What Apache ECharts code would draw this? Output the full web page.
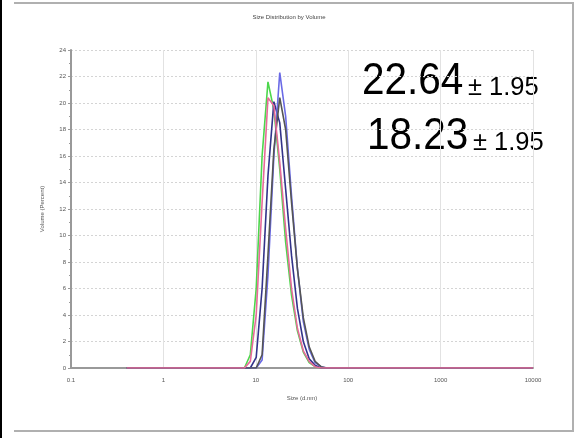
<!DOCTYPE html>
<html>
<head>
<meta charset="utf-8">
<script src="https://cdn.jsdelivr.net/npm/echarts@6/dist/echarts.min.js"></script>
<style>
  html, body { margin: 0; padding: 0; background: #fff; }
  #main { width: 578px; height: 438px; }
</style>
</head>
<body>
<div id="main"></div>
<script>
// size bins (d.nm), log spaced
var sizes = [0.4, 0.4632, 0.5365, 0.6213, 0.7195, 0.8332, 0.9649, 1.117, 1.294, 1.499,
  1.736, 2.01, 2.328, 2.696, 3.122, 3.615, 4.187, 4.849, 5.615, 6.503,
  7.531, 8.721, 10.1, 11.7, 13.54, 15.69, 18.17, 21.04, 24.36, 28.21,
  32.67, 37.84, 43.82, 50.75, 58.77, 68.06, 78.82, 91.28, 105.7, 122.4,
  141.8, 164.2, 190.1, 220.2, 255.0, 295.3, 342.0, 396.1, 458.7, 531.2,
  615.1, 712.4, 825.0, 955.4, 1106, 1281, 1484, 1718, 1990, 2305,
  2669, 3091, 3580, 4145, 4801, 5560, 6439, 7456, 8635, 10000];

// volume % for bins 7.531 .. 68.06 (index 20..35), zero elsewhere
var peakStart = 20;
var green  = [0, 1, 6, 16, 21.6, 19.5, 15, 9.5, 5.5, 2.8, 1.2, 0.4, 0.1, 0, 0, 0];
var purple = [0, 0, 0.8, 6, 14.5, 20.1, 18.5, 13.5, 8.5, 4.5, 2, 0.7, 0.2, 0, 0, 0];
var blue   = [0, 0, 0, 0.6, 7, 16, 22.3, 19, 13, 7.5, 3.5, 1.4, 0.4, 0.1, 0, 0];
var gray   = [0, 0, 0, 1, 8.5, 16.5, 20.4, 18, 12.5, 7.5, 3.8, 1.6, 0.5, 0.1, 0, 0];
var pink   = [0, 0.5, 4, 12.5, 20.4, 19.8, 15.5, 10.5, 6, 3, 1.3, 0.5, 0.1, 0, 0, 0];

var yTicks = [0, 2, 4, 6, 8, 10, 12, 14, 16, 18, 20, 22, 24];

function toData(vals) {
  return sizes.map(function (s, i) {
    var k = i - peakStart;
    var v = (k >= 0 && k < vals.length) ? vals[k] : 0;
    return [s, v];
  });
}

function line(name, vals, color, z) {
  return {
    name: name,
    type: 'line',
    data: toData(vals),
    showSymbol: false,
    z: z,
    lineStyle: { color: color, width: 1.6 },
    itemStyle: { color: color }
  };
}

var chart = echarts.init(document.getElementById('main'));

var option = {
  animation: false,
  backgroundColor: '#fff',
  title: {
    text: 'Size Distribution by Volume',
    left: 'center',
    top: 9,
    textStyle: { fontSize: 6, fontWeight: 'normal', color: '#444', fontFamily: 'Liberation Sans' }
  },
  grid: { left: 71, right: 45, top: 50, bottom: 70 },
  xAxis: {
    type: 'log',
    logBase: 10,
    min: 0.1,
    max: 10000,
    name: 'Size (d.nm)',
    nameLocation: 'middle',
    nameGap: 27,
    nameTextStyle: { fontSize: 6, color: '#555', fontFamily: 'Liberation Sans' },
    axisLine: { lineStyle: { color: '#999', width: 2 } },
    axisTick: { show: false },
    axisLabel: {
      fontSize: 6, color: '#555', margin: 9, fontFamily: 'Liberation Sans',
      formatter: function (v) { return String(v); }
    },
    splitLine: { show: true, lineStyle: { color: '#e2e2e2', width: 1 } }
  },
  yAxis: {
    type: 'value',
    min: 0,
    max: 24,
    interval: 2,
    name: 'Volume (Percent)',
    nameLocation: 'middle',
    nameRotate: 90,
    nameGap: 26,
    nameTextStyle: { fontSize: 6, color: '#555', fontFamily: 'Liberation Sans' },
    axisLine: { show: true, lineStyle: { color: '#999', width: 2 } },
    axisTick: { show: true, length: 3, lineStyle: { color: '#999' } },
    minorTick: { show: true, splitNumber: 2, length: 2, lineStyle: { color: '#999' } },
    axisLabel: {
      fontSize: 6, color: '#555', margin: 5, fontFamily: 'Liberation Sans',
      formatter: function (v) { return yTicks.indexOf(v) >= 0 ? String(v) : ''; }
    },
    splitLine: { show: true, lineStyle: { color: '#d4d4d4', width: 1, type: [2, 2] } }
  },
  series: [
    line('Record 2', green, '#4cd64c', 3),
    line('Record 3', purple, '#33338a', 4),
    line('Record 4', blue, '#6a6ae6', 5),
    line('Record 5', gray, '#555555', 6),
    line('Record 1', pink, '#e86a9a', 7)
  ],
  graphic: [
    { type: 'rect', shape: { x: 0, y: 0, width: 2, height: 438 }, style: { fill: '#000' } },
    { type: 'rect', shape: { x: 14, y: 2, width: 560, height: 2 }, style: { fill: '#b0b0b0' } },
    { type: 'rect', shape: { x: 572, y: 2, width: 2, height: 430 }, style: { fill: '#b0b0b0' } },
    { type: 'rect', shape: { x: 14, y: 430, width: 560, height: 2 }, style: { fill: '#b0b0b0' } },
    {
      type: 'text', x: 362, y: 104, scaleX: 0.9,
      style: { text: '22.64', font: '45px "Liberation Sans"', fill: '#000', textVerticalAlign: 'bottom' }
    },
    {
      type: 'text', x: 468, y: 101, scaleX: 0.98,
      style: { text: '± 1.95', font: '26px "Liberation Sans"', fill: '#000', textVerticalAlign: 'bottom' }
    },
    {
      type: 'text', x: 367, y: 159, scaleX: 0.9,
      style: { text: '18.23', font: '45px "Liberation Sans"', fill: '#000', textVerticalAlign: 'bottom' }
    },
    {
      type: 'text', x: 473, y: 156, scaleX: 0.98,
      style: { text: '± 1.95', font: '26px "Liberation Sans"', fill: '#000', textVerticalAlign: 'bottom' }
    }
  ]
};

chart.setOption(option);
</script>
</body>
</html>
